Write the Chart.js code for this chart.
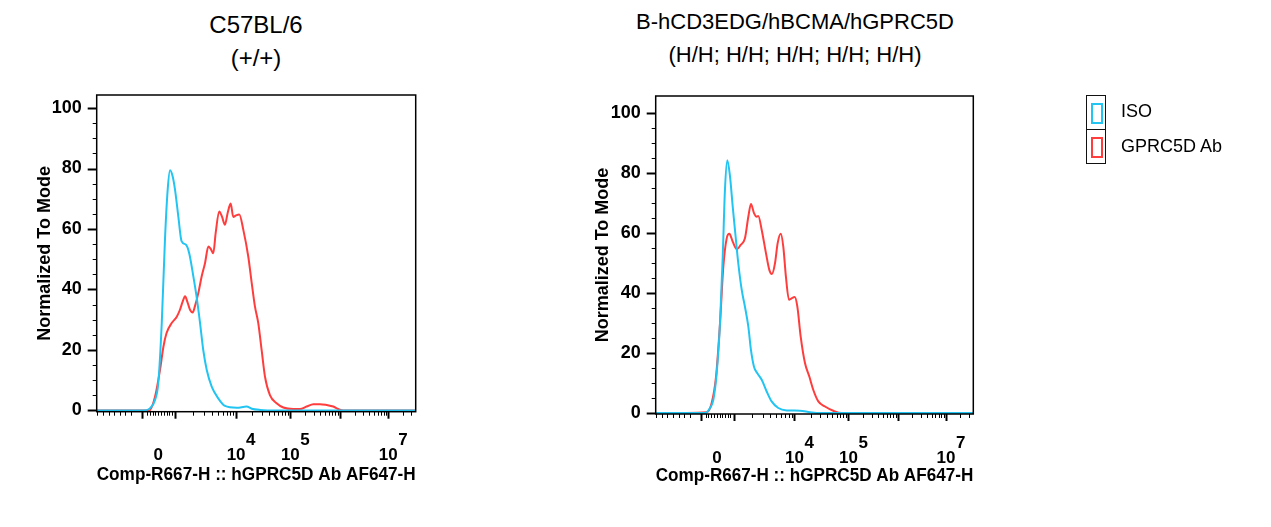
<!DOCTYPE html>
<html>
<head>
<meta charset="utf-8">
<script src="https://cdn.jsdelivr.net/npm/chart.js@4.4.1/dist/chart.umd.min.js"></script>
<style>
  body { margin: 0; background: #fff; font-family: "Liberation Sans", Arial, sans-serif; }
  .title { position: absolute; width: 420px; text-align: center; font-size: 22px; line-height: 33px; color: #000; }
  .panel { position: absolute; top: 80px; width: 540px; height: 447px; }
  .legend { position: absolute; left: 1086px; top: 95px; }
  .legend .row { position: relative; height: 35px; }
  .legend .box { position: absolute; left: 0; top: 0; width: 18px; height: 33px; border: 1.5px solid #111; }
  .legend .row + .row .box { top: -1.5px; }
  .legend .swatch { position: absolute; left: 4px; top: 7px; width: 8px; height: 17px; border: 2px solid; }
  .legend .txt { position: absolute; left: 35px; top: 6px; font-size: 18px; white-space: nowrap; }
</style>
</head>
<body>
<div class="title" style="left:46px; top:8px; font-size:24px;">C57BL/6<br>(+/+)</div>
<div class="title" style="left:585px; top:5px;">B-hCD3EDG/hBCMA/hGPRC5D<br>(H/H; H/H; H/H; H/H; H/H)</div>
<div class="panel" style="left:0px;"><canvas id="chartLeft"></canvas></div>
<div class="panel" style="left:560px;"><canvas id="chartRight"></canvas></div>
<div class="legend">
  <div class="row"><div class="box"><div class="swatch" style="border-color:#22c4f2"></div></div><div class="txt">ISO</div></div>
  <div class="row"><div class="box"><div class="swatch" style="border-color:#ff3d3d"></div></div><div class="txt">GPRC5D Ab</div></div>
</div>
<script>
// display channel (0-1000) -> normalized to mode
var seriesNames = ['ISO', 'GPRC5D Ab'];
var seriesColors = ['#22c4f2', '#ff3d3d'];

var wtIsoX = [0, 146, 167, 183, 193, 204, 214, 222.5, 230, 238, 245.5, 256, 266, 280, 290, 303, 313, 324, 334, 345, 360.5, 381, 402, 439, 470, 486, 512, 564, 1000];
var wtIsoY = [0, 0, 0.7, 3.5, 9, 29, 56.5, 73, 79.4, 77.4, 73, 64, 56, 54.8, 52, 44.3, 37.7, 28.9, 20, 13.4, 7.9, 4, 1.5, 0.9, 1.3, 0.6, 0.2, 0, 0];

var wtAbX = [0, 165, 183, 198.5, 209, 219, 235, 251, 261, 269.5, 277, 284, 292.5, 301, 308, 318.5, 329, 339.5, 350, 357, 365.5, 373, 384, 393, 402, 410.5, 420, 428, 436.7, 447, 459.5, 475, 486, 496, 506.5, 517, 527.5, 543, 564, 585, 616, 637, 658, 679, 700, 721, 741.7, 757, 773, 1000];
var wtAbY = [0, 0, 4.6, 13.4, 21, 25.6, 28.9, 31, 33.3, 36, 37.8, 36, 33.3, 32.4, 34.5, 38.8, 44.3, 48.7, 54.2, 53.5, 52, 58.7, 65.8, 64, 61.4, 65.3, 68.4, 64, 64.5, 64.8, 59.8, 51, 42.1, 34.4, 28.9, 20, 11.2, 5.1, 2.4, 1.0, 0.5, 0.5, 1.3, 2.1, 2.1, 1.8, 1.3, 0.5, 0, 0];

var hIsoX = [0, 155, 171, 181.5, 192, 202.5, 211, 218, 225.5, 234, 242.5, 250.6, 260, 271, 281, 291.6, 300, 309.5, 320, 333.8, 349.5, 365, 386, 412.5, 454, 486, 517, 1000];
var hIsoY = [0, 0, 1.7, 4.4, 13.3, 30, 52, 74.4, 84.4, 78.9, 68.9, 60, 50, 41, 35.5, 28.9, 21, 15.5, 13.3, 11.1, 7.2, 3.9, 1.7, 0.9, 0.8, 0.3, 0, 0];

var hAbX = [0, 160.5, 176, 190, 202.5, 213, 223.5, 232, 242.5, 255, 267.6, 281, 291.6, 300, 309.5, 318, 323, 333.8, 347.3, 357.7, 366, 375.6, 384, 393.6, 401.8, 410, 419.7, 428, 437.7, 446, 456.5, 470, 483.7, 496, 512, 533, 559, 585.6, 1000];
var hAbY = [0, 0.3, 3.3, 12.2, 30, 48.9, 58.3, 59.8, 57.2, 54.7, 56.1, 58.3, 65.5, 69.8, 66.7, 65.5, 65.8, 61.1, 53.3, 47.8, 46.4, 50, 56.7, 59.8, 55.5, 45.5, 37.8, 38.3, 38.7, 35.5, 25.5, 16.7, 12.2, 7.8, 3.9, 2.2, 0.8, 0, 0];

// axis ticks (display channels)
var xMajorTicks = [143, 245, 437, 607, 763, 914];
var xLinearMinor = [2, 19.5, 37, 54.5, 72, 89.5, 107, 157, 166, 175, 184, 192, 201, 210, 219, 227, 235];
var xLabelPos = [193, 437, 607, 914];
var xLabelBase = ['0', '10', '10', '10'];
var xLabelExp = ['', '4', '5', '7'];
var yTicks = [0, 20, 40, 60, 80, 100];
var yMinorStep = 5;

var xAxisTitle = 'Comp-R667-H :: hGPRC5D Ab AF647-H';
var yAxisTitle = 'Normalized To Mode';
var FONT = "'Liberation Sans', Arial, sans-serif";

// log-decade minor ticks between the major ones
var xLogMinor = [];
for (var k = 1; k < xMajorTicks.length; k++) {
    var lo = xMajorTicks[k], hi = xMajorTicks[k + 1] || (xMajorTicks[k] + 151);
    for (var m = 2; m <= 9; m++) {
        var v = lo + (hi - lo) * Math.log10(m);
        if (v < 1000) xLogMinor.push(v);
    }
}

function toPoints(xs, ys) {
    return xs.map(function (x, i) { return { x: x, y: ys[i] }; });
}

var fcsAxis = {
    id: 'fcsAxis',
    afterDraw: function (chart) {
        var ctx = chart.ctx, a = chart.chartArea;
        var xs = chart.scales.x, ys = chart.scales.y;
        ctx.save();
        ctx.strokeStyle = '#000';

        function vline(px, len, w) {
            ctx.lineWidth = w;
            ctx.beginPath();
            ctx.moveTo(Math.round(px) + 0.5, a.bottom);
            ctx.lineTo(Math.round(px) + 0.5, a.bottom + len);
            ctx.stroke();
        }
        xMajorTicks.forEach(function (v) { vline(xs.getPixelForValue(v), 7, 2); });
        xLinearMinor.concat(xLogMinor).forEach(function (v) { vline(xs.getPixelForValue(v), 4, 1); });

        for (var t = 0; t <= 100; t += yMinorStep) {
            var py = Math.round(ys.getPixelForValue(t)) + 0.5;
            var major = t % 20 === 0;
            ctx.lineWidth = major ? 2 : 1;
            ctx.beginPath();
            ctx.moveTo(a.left, py);
            ctx.lineTo(a.left - (major ? 9 : 4), py);
            ctx.stroke();
        }

        ctx.lineWidth = 1.5;
        ctx.strokeRect(a.left, a.top, a.right - a.left, a.bottom - a.top);

        ctx.fillStyle = '#000';
        ctx.font = 'bold 17px ' + FONT;
        ctx.textBaseline = 'middle';
        xLabelPos.forEach(function (v, i) {
            var px = xs.getPixelForValue(v);
            ctx.textAlign = 'center';
            ctx.fillText(xLabelBase[i], px, a.bottom + 44);
            if (xLabelExp[i]) {
                ctx.textAlign = 'left';
                ctx.fillText(xLabelExp[i], px + 10, a.bottom + 29);
            }
        });
        ctx.restore();
    }
};

function makeChart(id, isoX, isoY, abX, abY, opt) {
    return new Chart(document.getElementById(id), {
        type: 'line',
        data: {
            datasets: [{
                label: seriesNames[0],
                data: toPoints(isoX, isoY),
                borderColor: seriesColors[0],
                borderWidth: 2,
                pointRadius: 0,
                cubicInterpolationMode: 'monotone'
            }, {
                label: seriesNames[1],
                data: toPoints(abX, abY),
                borderColor: seriesColors[1],
                borderWidth: 2,
                pointRadius: 0,
                cubicInterpolationMode: 'monotone'
            }]
        },
        options: {
            responsive: true,
            maintainAspectRatio: false,
            animation: false,
            layout: { padding: { top: opt.top, right: opt.right, left: 0, bottom: 0 } },
            plugins: { legend: { display: false }, tooltip: { enabled: false } },
            scales: {
                x: {
                    type: 'linear',
                    min: 0,
                    max: 1000,
                    grid: { display: false },
                    border: { display: false },
                    ticks: { display: false },
                    afterFit: function (scale) {
                        scale.height = opt.xHeight;
                        scale.paddingLeft = 0;
                        scale.paddingRight = 0;
                    },
                    title: {
                        display: true,
                        text: xAxisTitle,
                        color: '#000',
                        font: { family: FONT, size: 17.5, weight: 'bold' },
                        padding: { top: 0, bottom: opt.xTitlePad }
                    }
                },
                y: {
                    min: opt.yMin,
                    max: opt.yMax,
                    grid: { display: false, drawTicks: false },
                    border: { display: false },
                    afterBuildTicks: function (scale) {
                        scale.ticks = yTicks.map(function (v) { return { value: v }; });
                    },
                    afterFit: function (scale) {
                        scale.width = opt.yWidth;
                        scale.paddingTop = 0;
                        scale.paddingBottom = 0;
                    },
                    ticks: {
                        color: '#000',
                        padding: 15,
                        font: { family: FONT, size: 18, weight: 'bold' }
                    },
                    title: {
                        display: true,
                        text: yAxisTitle,
                        color: '#000',
                        font: { family: FONT, size: 18, weight: 'bold' },
                        padding: { top: opt.yTitlePad, bottom: 0 }
                    }
                }
            }
        },
        plugins: [fcsAxis]
    });
}

makeChart('chartLeft', wtIsoX, wtIsoY, wtAbX, wtAbY,
    { top: 15, right: 124.3, xHeight: 115.3, yWidth: 96.7, yMin: -0.4, yMax: 104.3, xTitlePad: 41, yTitlePad: 34.2 });
makeChart('chartRight', hIsoX, hIsoY, hAbX, hAbY,
    { top: 16, right: 126.7, xHeight: 113, yWidth: 95.7, yMin: -0.3, yMax: 105.8, xTitlePad: 40, yTitlePad: 32.5 });
</script>
</body>
</html>
